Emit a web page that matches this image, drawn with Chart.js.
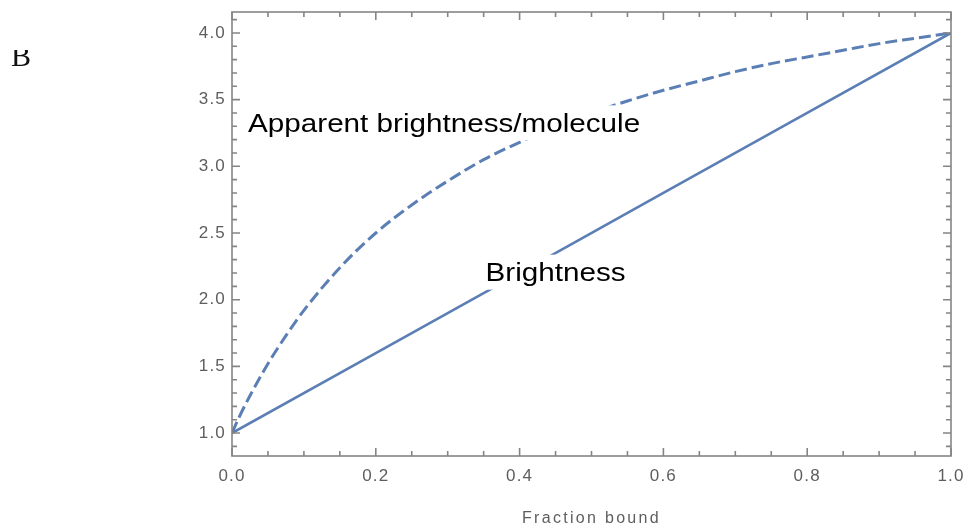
<!DOCTYPE html>
<html>
<head>
<meta charset="utf-8">
<title>Brightness vs fraction bound</title>
<script src="https://cdn.jsdelivr.net/npm/chart.js@4"></script>
<style>
  html, body { margin: 0; padding: 0; background: #ffffff; overflow: hidden; }
  #wrap { position: relative; width: 968px; height: 529px; }
</style>
</head>
<body>
<div id="wrap"><canvas id="chart" width="968" height="529"></canvas></div>
<script>
// Fraction of molecules bound (x) and the two brightness curves.
const fractionBound = [0, 0.01, 0.025, 0.05, 0.075, 0.1, 0.15, 0.2, 0.25, 0.3, 0.35, 0.4,
                       0.45, 0.5, 0.55, 0.6, 0.65, 0.7, 0.75, 0.8, 0.85, 0.9, 0.95, 1.0];
const apparentBrightness = [1.00, 1.12, 1.28, 1.52, 1.73, 1.92, 2.24, 2.50, 2.71, 2.89, 3.05, 3.18,
                            3.30, 3.40, 3.49, 3.57, 3.64, 3.71, 3.77, 3.82, 3.87, 3.92, 3.96, 4.00];
const brightnessFraction = [0, 0.2, 0.4, 0.6, 0.8, 1.0];
const brightness = [1.0, 1.6, 2.2, 2.8, 3.4, 4.0];

// Axis ticks
const xTickValues = [0, 0.2, 0.4, 0.6, 0.8, 1.0];
const xTickLabels = ['0.0', '0.2', '0.4', '0.6', '0.8', '1.0'];
const xMinorTicks = [0.05, 0.1, 0.15, 0.25, 0.3, 0.35, 0.45, 0.5, 0.55, 0.65, 0.7, 0.75, 0.85, 0.9, 0.95];
const yTickValues = [1.0, 1.5, 2.0, 2.5, 3.0, 3.5, 4.0];
const yTickLabels = ['1.0', '1.5', '2.0', '2.5', '3.0', '3.5', '4.0'];
const yMinorTicks = [0.9, 1.1, 1.2, 1.3, 1.4, 1.6, 1.7, 1.8, 1.9, 2.1, 2.2, 2.3, 2.4, 2.6, 2.7, 2.8, 2.9,
                     3.1, 3.2, 3.3, 3.4, 3.6, 3.7, 3.8, 3.9, 4.1];

// Text
const curveLabels = ['Apparent brightness/molecule', 'Brightness'];
const xAxisTitle = 'Fraction bound';
const panelLetter = 'B';

const LINE_BLUE = '#5b7fb4';
const FRAME_GREY = '#858585';
const TICK_TEXT = '#5e5e5e';
const SANS = '"Liberation Sans", Arial, Helvetica, sans-serif';

// Slightly open letter spacing for the tick labels drawn by the scales
const spacingPlugin = {
  id: 'spacing',
  beforeDraw(chart) { chart.ctx.letterSpacing = '1.2px'; },
  afterDraw(chart) { chart.ctx.letterSpacing = '0px'; }
};

// Curve labels with white backing boxes, placed in data coordinates
const curveLabelPlugin = {
  id: 'curveLabels',
  afterDatasetsDraw(chart, args, opts) {
    const { ctx } = chart;
    const xs = chart.scales.x, ys = chart.scales.y;
    const stretch = opts.stretch;
    ctx.save();
    ctx.font = '26px ' + SANS;
    ctx.letterSpacing = '0px';
    ctx.textAlign = 'center';
    ctx.textBaseline = 'alphabetic';
    opts.anchors.forEach((a, i) => {
      const text = curveLabels[i];
      const px = xs.getPixelForValue(a[0]);
      const py = ys.getPixelForValue(a[1]);
      const w = ctx.measureText(text).width * stretch;
      ctx.fillStyle = '#ffffff';
      ctx.fillRect(px - w / 2 - 3, py - 17, w + 6, 35);
      ctx.save();
      ctx.translate(px, py + 9.5);
      ctx.scale(stretch, 1);
      ctx.fillStyle = '#000000';
      ctx.fillText(text, 0, 0);
      ctx.restore();
    });
    ctx.restore();
  }
};

// Mathematica-style frame with inward major/minor ticks on all four sides,
// the x-axis title and the panel letter
const framePlugin = {
  id: 'frame',
  afterDraw(chart) {
    const { ctx, chartArea } = chart;
    const { left, right, top, bottom } = chartArea;
    const xs = chart.scales.x, ys = chart.scales.y;
    ctx.save();
    ctx.letterSpacing = '0px';
    ctx.strokeStyle = FRAME_GREY;
    ctx.lineWidth = 1.6;
    ctx.strokeRect(left, top, right - left, bottom - top);
    ctx.beginPath();
    const xTick = (v, len) => {
      const px = xs.getPixelForValue(v);
      ctx.moveTo(px, bottom); ctx.lineTo(px, bottom - len);
      ctx.moveTo(px, top); ctx.lineTo(px, top + len);
    };
    const yTick = (v, len) => {
      const py = ys.getPixelForValue(v);
      ctx.moveTo(left, py); ctx.lineTo(left + len, py);
      ctx.moveTo(right, py); ctx.lineTo(right - len, py);
    };
    xTickValues.forEach(v => xTick(v, 8));
    xMinorTicks.forEach(v => xTick(v, 5));
    yTickValues.forEach(v => yTick(v, 8));
    yMinorTicks.forEach(v => yTick(v, 5));
    ctx.stroke();

    // Axis title, centred under the plot
    ctx.font = '16px ' + SANS;
    ctx.letterSpacing = '2.3px';
    ctx.fillStyle = TICK_TEXT;
    ctx.textAlign = 'center';
    ctx.textBaseline = 'alphabetic';
    ctx.fillText(xAxisTitle, (left + right) / 2, xs.bottom - 6);
    ctx.letterSpacing = '0px';

    // Panel letter, partly cut off at the top edge of its cell
    ctx.beginPath();
    ctx.rect(0, 50, 60, 30);
    ctx.clip();
    ctx.fillStyle = '#111111';
    ctx.font = '30px "Liberation Serif", "Times New Roman", serif';
    ctx.textAlign = 'left';
    ctx.fillText(panelLetter, 11, 66);
    ctx.restore();
  }
};

const ctx = document.getElementById('chart').getContext('2d');
new Chart(ctx, {
  type: 'line',
  data: {
    datasets: [
      {
        label: curveLabels[0],
        data: fractionBound.map((x, i) => ({ x, y: apparentBrightness[i] })),
        borderColor: LINE_BLUE,
        borderWidth: 3,
        borderDash: [12, 5],
        pointRadius: 0,
        cubicInterpolationMode: 'monotone',
        fill: false
      },
      {
        label: curveLabels[1],
        data: brightnessFraction.map((x, i) => ({ x, y: brightness[i] })),
        borderColor: LINE_BLUE,
        borderWidth: 2.6,
        pointRadius: 0,
        tension: 0,
        fill: false
      }
    ]
  },
  options: {
    responsive: false,
    animation: false,
    events: [],
    layout: { padding: { top: 12, right: 17, bottom: 0, left: 0 } },
    plugins: {
      legend: { display: false },
      tooltip: { enabled: false },
      curveLabels: { anchors: [[0.295, 3.33], [0.45, 2.21]], stretch: 1.14 }
    },
    scales: {
      x: {
        type: 'linear',
        min: 0,
        max: 1,
        grid: { display: false, drawTicks: false },
        border: { display: false },
        afterBuildTicks: s => { s.ticks = xTickValues.map(v => ({ value: v })); },
        afterFit: s => { s.height = 73; s.paddingLeft = 0; s.paddingRight = 0; },
        ticks: {
          callback: (v, i) => xTickLabels[i],
          color: TICK_TEXT,
          font: { family: SANS, size: 17 },
          padding: 10,
          maxRotation: 0,
          autoSkip: false
        }
      },
      y: {
        type: 'linear',
        min: 0.828,
        max: 4.157,
        grid: { display: false, drawTicks: false },
        border: { display: false },
        afterBuildTicks: s => { s.ticks = yTickValues.map(v => ({ value: v })); },
        afterFit: s => { s.width = 232; s.paddingTop = 0; s.paddingBottom = 0; },
        ticks: {
          callback: (v, i) => yTickLabels[i],
          color: TICK_TEXT,
          font: { family: SANS, size: 17 },
          padding: 6,
          autoSkip: false
        }
      }
    }
  },
  plugins: [spacingPlugin, curveLabelPlugin, framePlugin]
});
</script>
</body>
</html>
